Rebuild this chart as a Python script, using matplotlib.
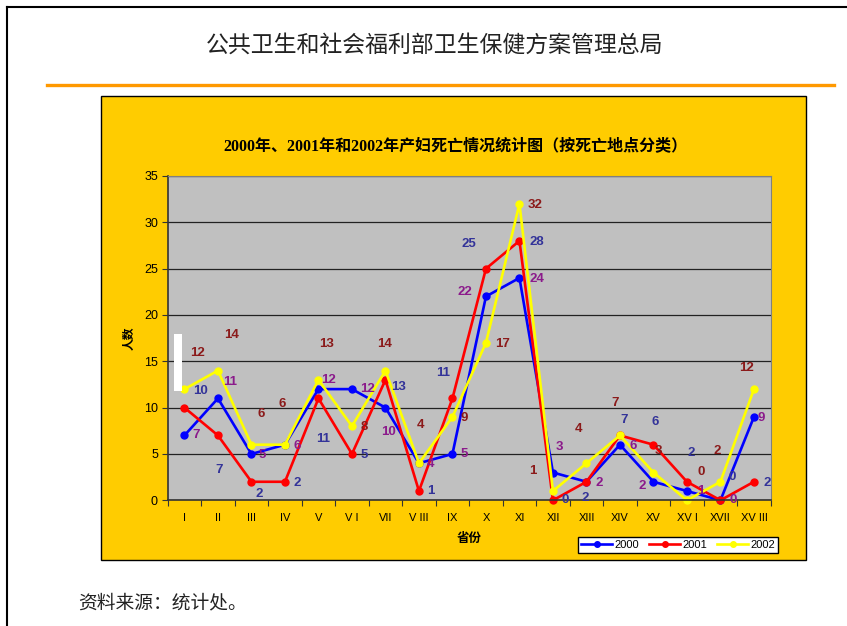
import matplotlib
matplotlib.use('Agg')
import numpy as np
from matplotlib import pyplot as plt
from matplotlib.patches import Rectangle
from matplotlib.lines import Line2D

# data
provinces = ['I', 'II', 'III', 'IV', 'V', 'V I', 'VII', 'V III', 'IX', 'X', 'XI',
             'XII', 'XIII', 'XIV', 'XV', 'XV I', 'XVII', 'XV III']
years = ['2000', '2001', '2002']
deaths_2000 = [7, 11, 5, 6, 12, 12, 10, 4, 5, 22, 24, 3, 2, 6, 2, 1, 0, 9]
deaths_2001 = [10, 7, 2, 2, 11, 5, 13, 1, 11, 25, 28, 0, 2, 7, 6, 2, 0, 2]
deaths_2002 = [12, 14, 6, 6, 13, 8, 14, 4, 9, 17, 32, 1, 4, 7, 3, 0, 2, 12]

# label offsets from the point, in pixels (dx right, dy down)
off_2000 = [(12, 0), (12.5, -16), (11, 1), (12, 1), (10, -9), (16, 0), (3, 24), (11.5, 1),
            (12, 0), (-21, -4), (17, 1), (6.5, -26), (13, 1), (13, 1), (-11, 4), (14, 0),
            (13, 0), (7, 1)]
off_2001 = [(16, -17), (1, 35), (8, 12.5), (12.5, 1), (5, 41), (12.5, 1), (13, 7), (11.5, 0),
            (-9, -25), (-17.5, -25), (17, 1), (12, 0), (-1, 16), (4.5, -15), (2, -23), (4, -29),
            (12, -23), (13.5, 1)]
off_2002 = [(13, -36), (13.5, -35.5), (10, -31), (-2.5, -41), (8, -36), (12.5, 0.5), (-0.5, -27),
            (2, -38), (12, 1), (17, 1), (16, 1), (-20, -20), (-8, -34), (-4.5, -32), (5, -22),
            (14, -28), (-3, -31), (-7.5, -21)]

W, H = 847, 626
fig = plt.figure(figsize=(W / 100, H / 100), dpi=100)
fig.patch.set_facecolor('white')

cjk = ['Noto Sans CJK SC', 'DejaVu Sans']

# outer frame lines
fig.add_artist(Line2D([7 / W, 1], [1 - 7 / H, 1 - 7 / H], color='black', lw=1.5, transform=fig.transFigure))
fig.add_artist(Line2D([7 / W, 7 / W], [1 - 7 / H, 0], color='black', lw=1.5, transform=fig.transFigure))

fig.text(435 / W, 1 - 45 / H, '公共卫生和社会福利部卫生保健方案管理总局', family=cjk,
         fontsize=16.5, fontweight='light', ha='center', va='center', color='#222222')
fig.add_artist(Line2D([47 / W, 834 / W], [1 - 85 / H, 1 - 85 / H], color='#FF9900', lw=2.4,
                      transform=fig.transFigure))

# yellow chart panel
fig.add_artist(Rectangle((101 / W, 1 - 560 / H), 705 / W, 464 / H, facecolor='#FFCC00',
                         edgecolor='black', lw=1, transform=fig.transFigure, zorder=0))

fig.text(455 / W, 1 - 146 / H, '2000年、2001年和2002年产妇死亡情况统计图（按死亡地点分类）',
         family=['Liberation Serif', 'Noto Sans CJK SC'], fontweight='bold', fontsize=11.5,
         ha='center', va='center')

fig.text(78 / W, 1 - 603 / H, '资料来源：统计处。', family=cjk, fontsize=13.5, fontweight='light',
         ha='left', va='center', color='#222222')

ax = fig.add_axes([167.7 / W, 1 - 500.3 / H, 603 / W, 324.3 / H])
ax.set_facecolor('#C0C0C0')
x = np.arange(len(provinces))

ax.set_xlim(-0.5, len(provinces) - 0.5)
ax.set_ylim(0, 35)
ax.set_yticks(np.arange(0, 36, 5))
ax.set_yticklabels([str(v) for v in range(0, 36, 5)], family='Liberation Sans', fontsize=9)
ax.set_xticks(np.arange(-0.5, len(provinces), 1))
ax.set_xticklabels([])
ax.set_xticks(x, minor=True)
ax.set_xticklabels(provinces, minor=True, family='Liberation Sans', fontsize=8)
ax.tick_params(axis='x', which='minor', length=0, pad=9)
ax.tick_params(axis='x', which='major', length=4, direction='out', color='#333333')
ax.tick_params(axis='y', length=4, direction='out', color='#333333', pad=3)
ax.yaxis.grid(True, color='#222222', lw=0.9)
ax.set_axisbelow(True)
for s in ['left', 'bottom']:
    ax.spines[s].set_color('#333333')
    ax.spines[s].set_linewidth(1.2)
for s in ['top', 'right']:
    ax.spines[s].set_color('#808080')

series = [deaths_2000, deaths_2001, deaths_2002]
line_colors = ['#0000FF', '#FF0000', '#FFFF00']
label_colors = ['#8B1A8B', '#333399', '#8B1A1A']
offsets = [off_2000, off_2001, off_2002]
for vals, lc, yr in zip(series, line_colors, years):
    ax.plot(x, vals, color=lc, lw=1.9, marker='o', ms=5, label=yr, clip_on=False)
for vals, tc, offs in zip(series, label_colors, offsets):
    for i, v in enumerate(vals):
        ax.annotate(str(v), (x[i], v), xytext=(offs[i][0], -offs[i][1]), textcoords='offset pixels',
                    ha='center', va='center', color=tc, fontsize=9.5, fontweight='bold',
                    family='Liberation Sans', annotation_clip=False)

# white artifact bar near the y axis
fig.add_artist(Rectangle((174 / W, 1 - 391 / H), 8 / W, 57 / H, facecolor='white', edgecolor='none',
                         transform=fig.transFigure, zorder=5))

ax.set_ylabel('人数', family=cjk, fontweight='bold', fontsize=8.5, labelpad=6)
ax.text(0.5, -0.118, '省份', transform=ax.transAxes, family=cjk, fontweight='bold', fontsize=9,
        ha='center', va='center')

leg = fig.legend(loc='upper right', bbox_to_anchor=(778 / W, 1 - 537 / H), ncol=3,
                 prop={'family': 'Liberation Sans', 'size': 8}, frameon=True, fancybox=False,
                 edgecolor='black', framealpha=1, handlelength=2.8, borderpad=0.25,
                 columnspacing=0.9, handletextpad=0.2, borderaxespad=0)
leg.get_frame().set_linewidth(1)
for h in leg.legend_handles:
    h.set_markersize(4)

fig.savefig('out.png', dpi=100)
